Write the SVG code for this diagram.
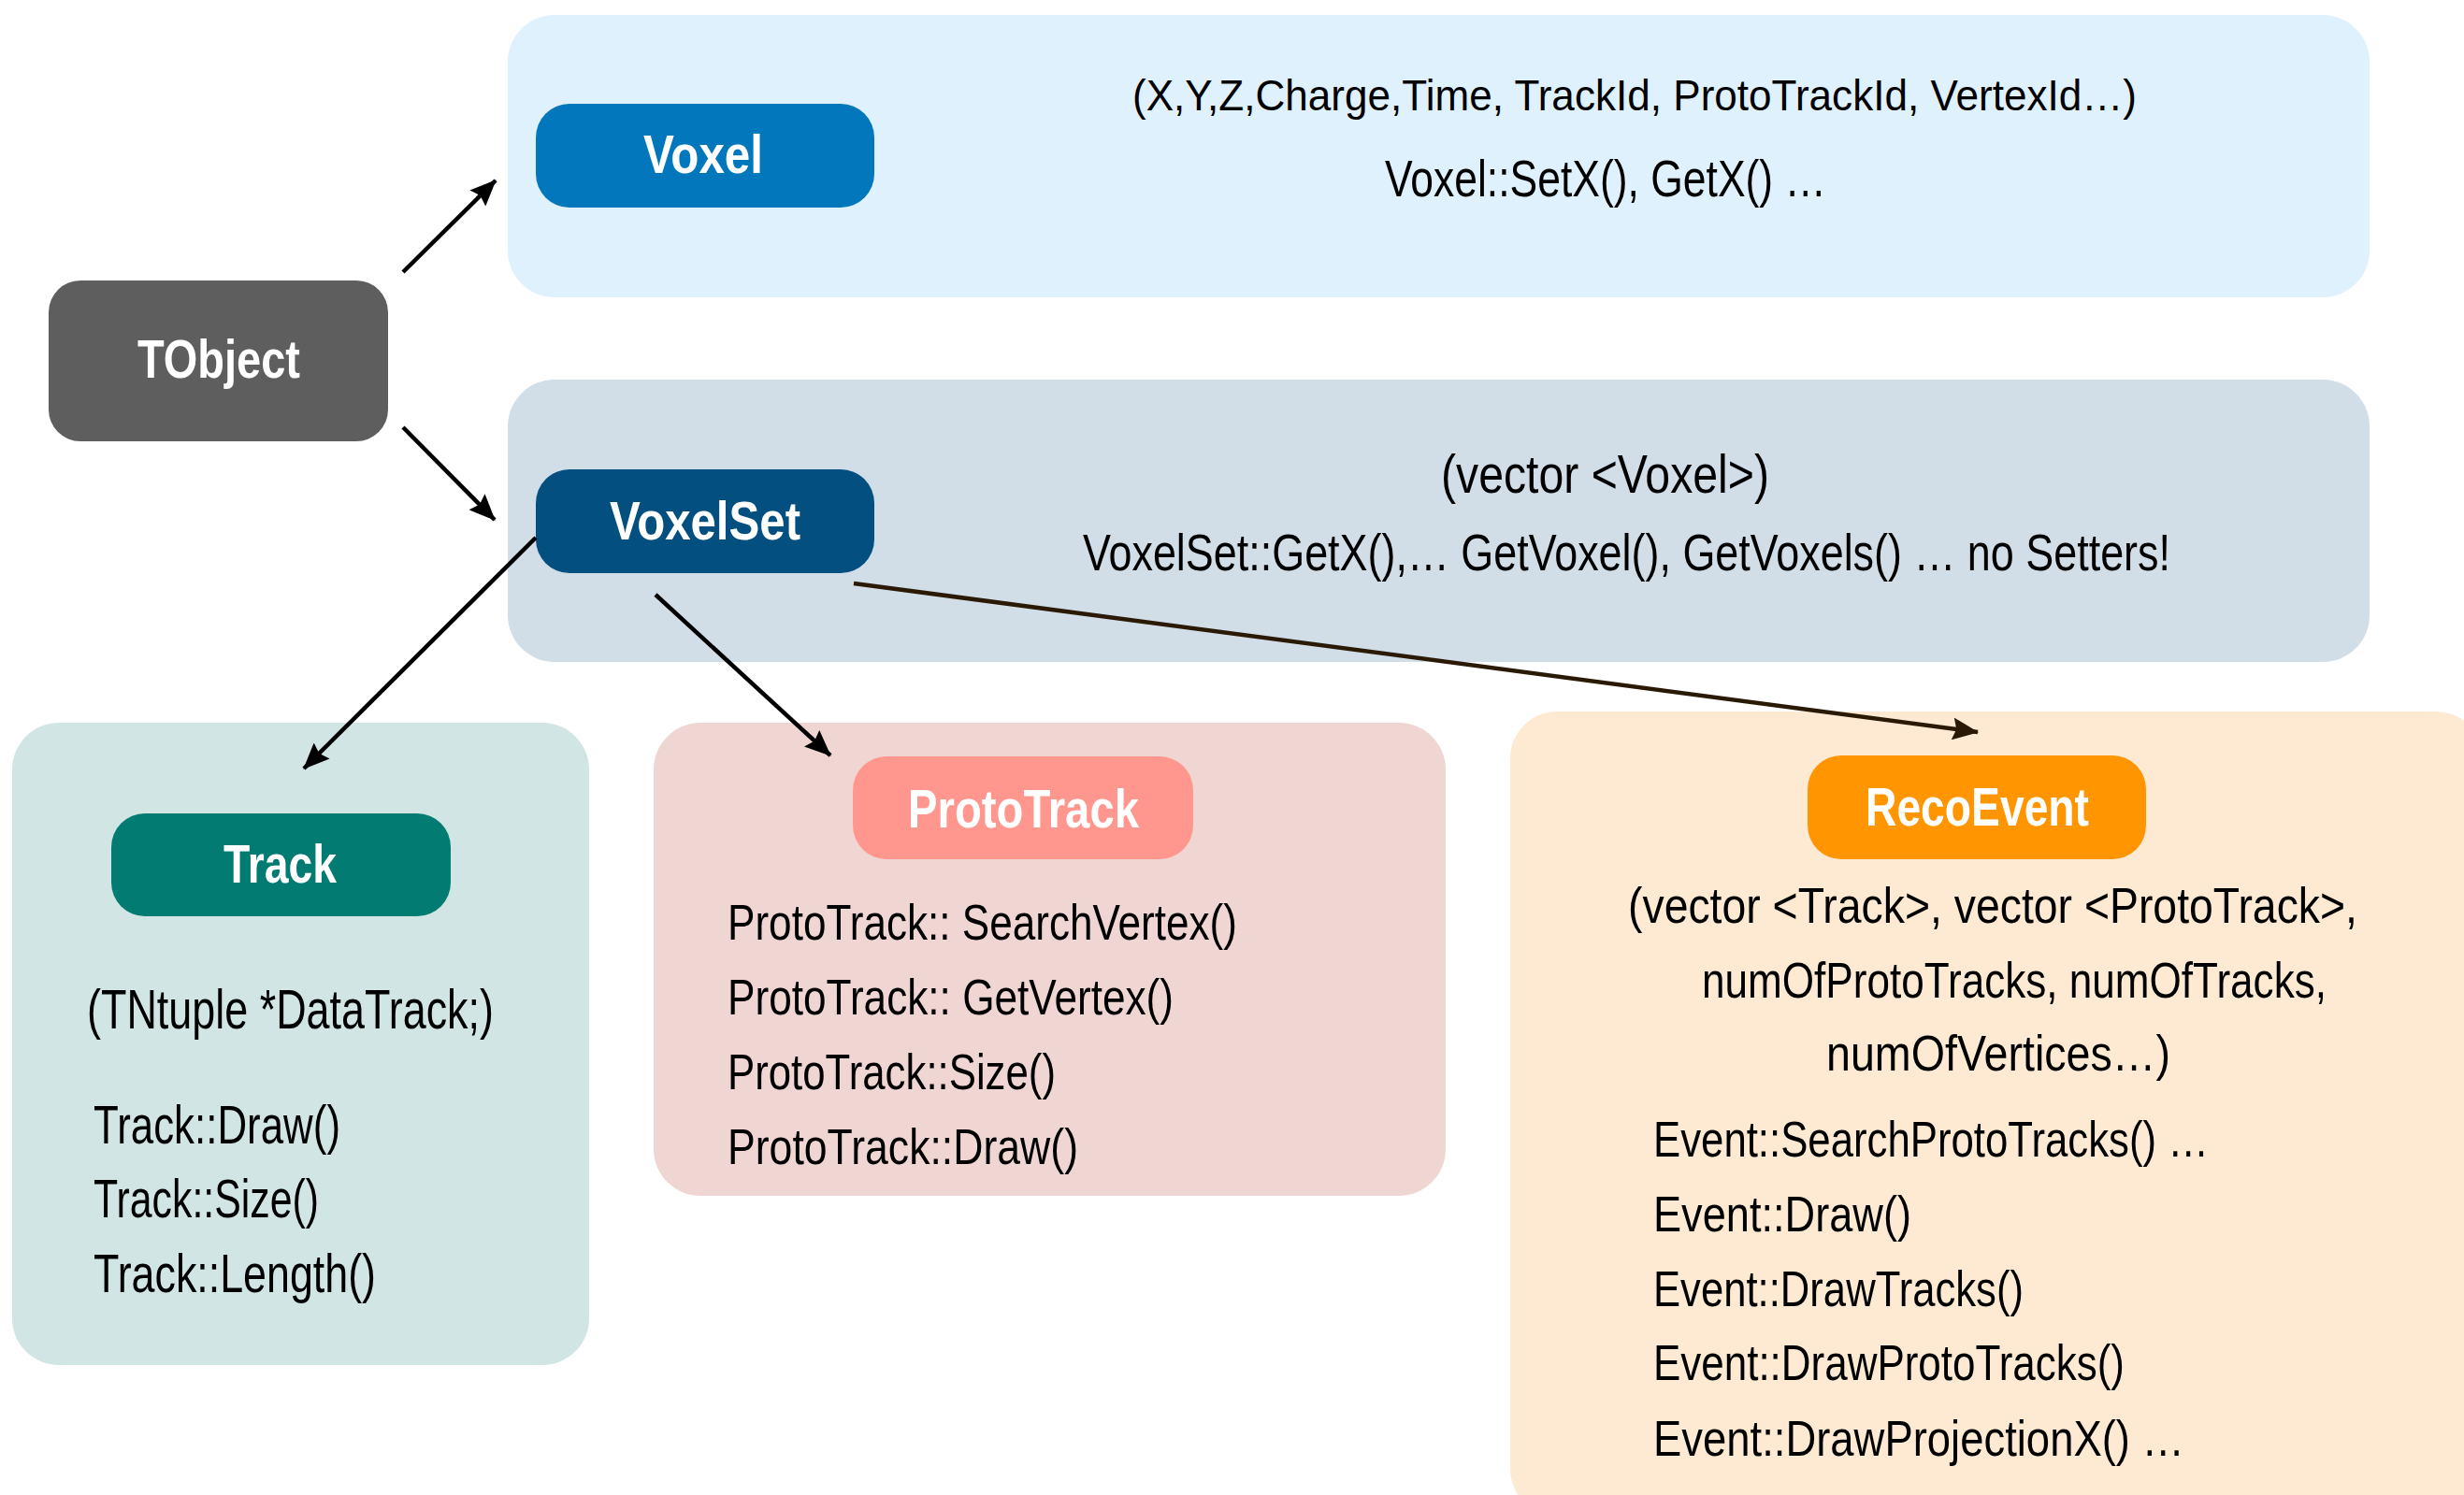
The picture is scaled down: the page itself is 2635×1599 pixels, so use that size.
<svg xmlns="http://www.w3.org/2000/svg" width="2635" height="1599" viewBox="0 0 2635 1599">
<style>
  .t { font-family: "Liberation Sans", Arial, sans-serif; fill: #000; }
  .lbl { font-family: "Liberation Sans", Arial, sans-serif; font-weight: bold; fill: #fff; font-size: 57px; }
  .conn { stroke: #000; stroke-width: 4.5; fill: none; marker-end: url(#ah); }
  .conn2 { stroke: #2a1a05; stroke-width: 4.5; fill: none; marker-end: url(#ah2); }
</style>
<defs>
  <marker id="ah" markerUnits="userSpaceOnUse" viewBox="0 0 28 24" markerWidth="28" markerHeight="24" refX="27" refY="12" orient="auto">
    <path d="M0,0 L28,12 L0,24 L4,12 z" fill="#000"/>
  </marker>
  <marker id="ah2" markerUnits="userSpaceOnUse" viewBox="0 0 28 24" markerWidth="28" markerHeight="24" refX="27" refY="12" orient="auto">
    <path d="M0,0 L28,12 L0,24 L4,12 z" fill="#2a1a05"/>
  </marker>
</defs>
<rect width="2635" height="1599" fill="#fff"/>

<g id="voxel-box">
  <rect x="543" y="16" width="1991" height="302" rx="50" fill="#dff1fd"/>
  <text class="t" x="1211" y="118" font-size="46" textLength="1074" lengthAdjust="spacingAndGlyphs">(X,Y,Z,Charge,Time, TrackId, ProtoTrackId, VertexId…)</text>
  <text class="t" x="1481" y="210" font-size="56" textLength="472" lengthAdjust="spacingAndGlyphs">Voxel::SetX(), GetX() …</text>
</g>
<g id="voxel">
  <rect x="573" y="111" width="362" height="111" rx="36" fill="#0277bc"/>
  <text class="lbl" x="688" y="185" textLength="128" lengthAdjust="spacingAndGlyphs">Voxel</text>
</g>

<g id="tobject">
  <rect x="52" y="300" width="363" height="172" rx="34" fill="#5e5e5e"/>
  <text class="lbl" x="147" y="404" textLength="174" lengthAdjust="spacingAndGlyphs">TObject</text>
</g>

<g id="voxelset-box">
  <rect x="543" y="406" width="1991" height="302" rx="50" fill="#d1dee8"/>
  <text class="t" x="1541" y="527" font-size="57" textLength="351" lengthAdjust="spacingAndGlyphs">(vector &lt;Voxel&gt;)</text>
  <text class="t" x="1158" y="610" font-size="56" textLength="1163" lengthAdjust="spacingAndGlyphs">VoxelSet::GetX(),… GetVoxel(), GetVoxels() … no Setters!</text>
</g>
<g id="voxelset">
  <rect x="573" y="502" width="362" height="111" rx="36" fill="#034f80"/>
  <text class="lbl" x="652" y="577" textLength="204" lengthAdjust="spacingAndGlyphs">VoxelSet</text>
</g>

<g id="track-box">
  <rect x="13" y="773" width="617" height="687" rx="50" fill="#d1e6e4"/>
  <text class="t" x="93" y="1100" font-size="60" textLength="435" lengthAdjust="spacingAndGlyphs">(TNtuple *DataTrack;)</text>
  <text class="t" x="100" y="1223" font-size="57" textLength="264" lengthAdjust="spacingAndGlyphs">Track::Draw()</text>
  <text class="t" x="100" y="1302" font-size="57" textLength="241" lengthAdjust="spacingAndGlyphs">Track::Size()</text>
  <text class="t" x="100" y="1382" font-size="57" textLength="302" lengthAdjust="spacingAndGlyphs">Track::Length()</text>
</g>
<g id="track">
  <rect x="119" y="870" width="363" height="110" rx="36" fill="#027b72"/>
  <text class="lbl" x="239" y="944" textLength="121" lengthAdjust="spacingAndGlyphs">Track</text>
</g>

<g id="prototrack-box">
  <rect x="699" y="773" width="847" height="506" rx="50" fill="#f0d6d3"/>
  <text class="t" x="778" y="1005" font-size="54" textLength="545" lengthAdjust="spacingAndGlyphs">ProtoTrack:: SearchVertex()</text>
  <text class="t" x="778" y="1085" font-size="54" textLength="477" lengthAdjust="spacingAndGlyphs">ProtoTrack:: GetVertex()</text>
  <text class="t" x="778" y="1165" font-size="54" textLength="351" lengthAdjust="spacingAndGlyphs">ProtoTrack::Size()</text>
  <text class="t" x="778" y="1245" font-size="54" textLength="375" lengthAdjust="spacingAndGlyphs">ProtoTrack::Draw()</text>
</g>
<g id="prototrack">
  <rect x="912" y="809" width="364" height="110" rx="36" fill="#ff978e"/>
  <text class="lbl" x="971" y="885" textLength="247" lengthAdjust="spacingAndGlyphs">ProtoTrack</text>
</g>

<g id="recoevent-box">
  <rect x="1615" y="761" width="1040" height="860" rx="50" fill="#feead3"/>
  <text class="t" x="1741" y="987" font-size="54" textLength="780" lengthAdjust="spacingAndGlyphs">(vector &lt;Track&gt;, vector &lt;ProtoTrack&gt;,</text>
  <text class="t" x="1820" y="1067" font-size="54" textLength="668" lengthAdjust="spacingAndGlyphs">numOfProtoTracks, numOfTracks,</text>
  <text class="t" x="1953" y="1145" font-size="54" textLength="368" lengthAdjust="spacingAndGlyphs">numOfVertices…)</text>
  <text class="t" x="1768" y="1237" font-size="54" textLength="594" lengthAdjust="spacingAndGlyphs">Event::SearchProtoTracks() …</text>
  <text class="t" x="1768" y="1317" font-size="54" textLength="276" lengthAdjust="spacingAndGlyphs">Event::Draw()</text>
  <text class="t" x="1768" y="1397" font-size="54" textLength="396" lengthAdjust="spacingAndGlyphs">Event::DrawTracks()</text>
  <text class="t" x="1768" y="1476" font-size="54" textLength="504" lengthAdjust="spacingAndGlyphs">Event::DrawProtoTracks()</text>
  <text class="t" x="1768" y="1557" font-size="54" textLength="568" lengthAdjust="spacingAndGlyphs">Event::DrawProjectionX() …</text>
</g>
<g id="recoevent">
  <rect x="1933" y="808" width="362" height="111" rx="36" fill="#ff9500"/>
  <text class="lbl" x="1995" y="883" textLength="239" lengthAdjust="spacingAndGlyphs">RecoEvent</text>
</g>

<g id="connectors">
  <line class="conn" x1="431" y1="291" x2="530" y2="193"/>
  <line class="conn" x1="431" y1="457" x2="529" y2="556"/>
  <line class="conn" x1="573" y1="575" x2="325" y2="822"/>
  <line class="conn" x1="701" y1="636" x2="888" y2="808"/>
  <line class="conn2" x1="913" y1="624" x2="2115" y2="783"/>
</g>
</svg>
